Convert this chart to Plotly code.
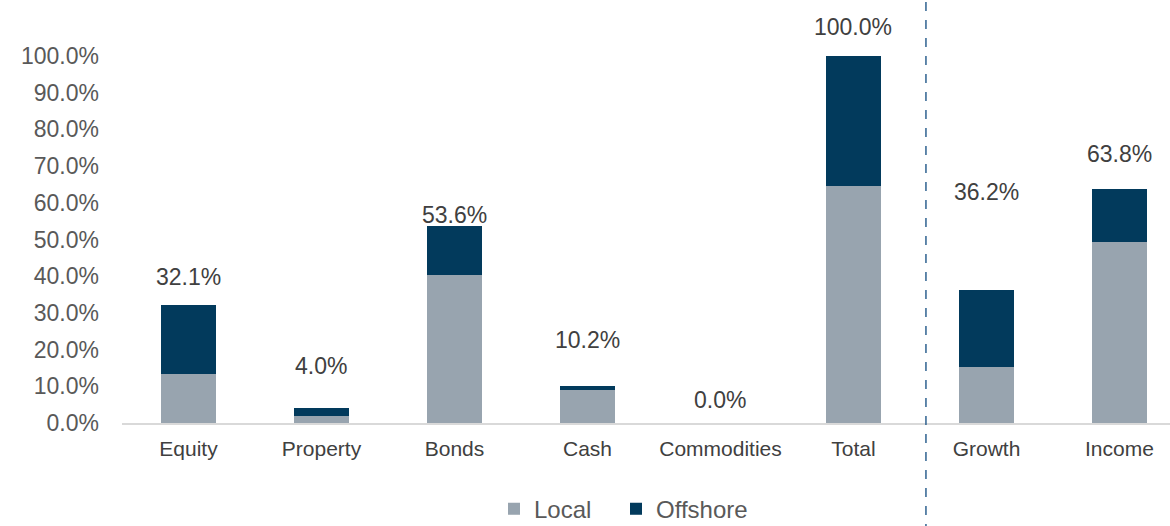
import plotly.graph_objects as go

# Asset allocation split into local and offshore holdings (% of portfolio)
categories = ["Equity", "Property", "Bonds", "Cash", "Commodities", "Total", "Growth", "Income"]
local = [13.4, 1.9, 40.2, 9.1, 0.0, 64.6, 15.3, 49.3]
offshore = [18.7, 2.1, 13.4, 1.1, 0.0, 35.4, 20.9, 14.5]
y_ticks = [0, 10, 20, 30, 40, 50, 60, 70, 80, 90, 100]

# Vertical pixel offsets of the total labels above each bar
label_yshift = [28, 42, 11, 46, 23, 29, 98, 35]

LOCAL_COLOR = "#98A4AF"
OFFSHORE_COLOR = "#023A5C"
FONT = "Liberation Sans, Arial, sans-serif"

fig = go.Figure()
fig.add_trace(go.Bar(name="Local", x=categories, y=local, legend="legend",
                     marker=dict(color=LOCAL_COLOR, line=dict(width=0))))
fig.add_trace(go.Bar(name="Offshore", x=categories, y=offshore, legend="legend2",
                     marker=dict(color=OFFSHORE_COLOR, line=dict(width=0))))

totals = [round(a + b, 1) for a, b in zip(local, offshore)]
for cat, tot, shift in zip(categories, totals, label_yshift):
    fig.add_annotation(x=cat, y=tot, text=f"{tot:.1f}%", showarrow=False,
                       yanchor="middle", yshift=shift,
                       font=dict(family=FONT, size=23, color="#404040"))

# Dashed divider between the asset classes and the growth/income split
fig.add_shape(type="line", xref="x", yref="paper", x0=5.545, x1=5.545,
              y0=-0.3, y1=1.16, line=dict(color="#2E6190", width=1.5, dash="dash"))

legend_style = dict(orientation="h", xanchor="left", xref="container",
                    yref="container", y=0.032, yanchor="middle",
                    font=dict(size=24, color="#595959"), itemwidth=30)

fig.update_layout(
    barmode="stack",
    bargap=0.59,
    width=1170, height=526,
    margin=dict(l=122, r=0, t=56, b=103, autoexpand=False),
    plot_bgcolor="white", paper_bgcolor="white",
    font=dict(family=FONT, color="#595959"),
    showlegend=True,
    legend=dict(x=494 / 1170, **legend_style),
    legend2=dict(x=616 / 1170, **legend_style),
)
fig.update_xaxes(range=[-0.5, 7.38], showline=True, linecolor="#D9D9D9", linewidth=2,
                 showgrid=False, ticks="", tickfont=dict(size=21, color="#404040"),
                 ticklabelstandoff=6)
fig.update_yaxes(range=[0, 100], tickvals=y_ticks, ticktext=[f"{v:.1f}%" for v in y_ticks],
                 showgrid=False, zeroline=False, showline=False, ticks="",
                 tickfont=dict(size=23, color="#595959"), ticklabelstandoff=22)

fig.write_html("out.html")
